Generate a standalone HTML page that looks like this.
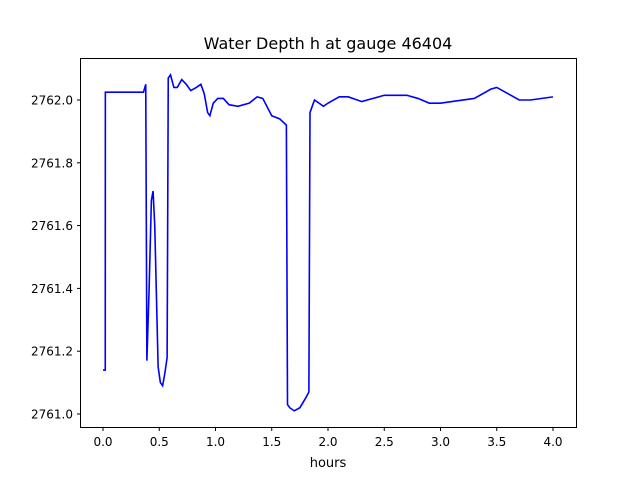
<!DOCTYPE html>
<html><head><meta charset="utf-8"><style>
body{margin:0;background:#fff;}
svg{display:block;font-family:"DejaVu Sans","Liberation Sans",sans-serif;}
</style></head><body>
<svg id="chart" width="640" height="480">
<rect x="0" y="0" width="640" height="480" fill="#fff"/>
<text x="328" y="49" text-anchor="middle" font-size="16">Water Depth h at gauge 46404</text>
<g id="xticks"></g><g id="yticks"></g>
<polyline id="series" fill="none" stroke="#0000ff" stroke-width="1.6"/>
<rect x="80.5" y="58.5" width="496" height="369" fill="none" stroke="#000" stroke-width="1"/>
<text x="328" y="467" text-anchor="middle" font-size="13">hours</text>
</svg>
<script>
const hours=[0,0.02,0.021,0.3,0.36,0.38,0.39,0.41,0.43,0.445,0.46,0.49,0.51,0.53,0.55,0.57,0.58,0.6,0.63,0.66,0.7,0.74,0.78,0.83,0.87,0.9,0.93,0.95,0.98,1.02,1.07,1.12,1.2,1.3,1.37,1.42,1.5,1.57,1.63,1.64,1.66,1.7,1.75,1.8,1.83,1.84,1.88,1.92,1.96,2.0,2.1,2.18,2.3,2.5,2.6,2.7,2.8,2.9,3.0,3.1,3.3,3.45,3.5,3.6,3.7,3.8,4.0];
const depth=[2761.14,2761.14,2762.025,2762.025,2762.025,2762.05,2761.17,2761.4,2761.68,2761.71,2761.6,2761.15,2761.10,2761.09,2761.13,2761.18,2762.07,2762.08,2762.04,2762.04,2762.065,2762.05,2762.03,2762.04,2762.05,2762.02,2761.96,2761.95,2761.99,2762.005,2762.005,2761.985,2761.98,2761.99,2762.01,2762.005,2761.95,2761.94,2761.92,2761.03,2761.02,2761.01,2761.02,2761.05,2761.07,2761.96,2762.0,2761.99,2761.98,2761.99,2762.01,2762.01,2761.995,2762.015,2762.015,2762.015,2762.005,2761.99,2761.99,2761.995,2762.005,2762.035,2762.04,2762.02,2762.0,2762.0,2762.01];
const xTickVals=[0,0.5,1,1.5,2,2.5,3,3.5,4];
const xTickLabels=["0.0","0.5","1.0","1.5","2.0","2.5","3.0","3.5","4.0"];
const yTickVals=[2761.0,2761.2,2761.4,2761.6,2761.8,2762.0];
const yTickLabels=["2761.0","2761.2","2761.4","2761.6","2761.8","2762.0"];
const X=v=>103+v*112.5;
const Y=v=>414-(v-2761.0)*314;
const ns="http://www.w3.org/2000/svg";
const xg=document.getElementById('xticks'),yg=document.getElementById('yticks');
xTickVals.forEach((v,i)=>{
 const l=document.createElementNS(ns,'line');
 l.setAttribute('x1',X(v));l.setAttribute('x2',X(v));l.setAttribute('y1',427.5);l.setAttribute('y2',431);l.setAttribute('stroke','#000');
 
 
 xg.appendChild(l);
 const t=document.createElementNS(ns,'text');
 t.setAttribute('x',X(v));t.setAttribute('y',446);t.setAttribute('text-anchor','middle');t.setAttribute('font-size','12');
 t.textContent=xTickLabels[i];
 
 
 xg.appendChild(t);
});
yTickVals.forEach((v,i)=>{
 const l=document.createElementNS(ns,'line');
 l.setAttribute('x1',77);l.setAttribute('x2',80.5);l.setAttribute('y1',Y(v));l.setAttribute('y2',Y(v));l.setAttribute('stroke','#000');
 
 
 yg.appendChild(l);
 const t=document.createElementNS(ns,'text');
 t.setAttribute('x',73);t.setAttribute('y',Y(v)+4.5);t.setAttribute('text-anchor','end');t.setAttribute('font-size','12');
 t.textContent=yTickLabels[i];
 
 
 yg.appendChild(t);
});
document.getElementById('series').setAttribute('points',hours.map((h,i)=>X(h)+','+Y(depth[i])).join(' '));
</script>
</body></html>
